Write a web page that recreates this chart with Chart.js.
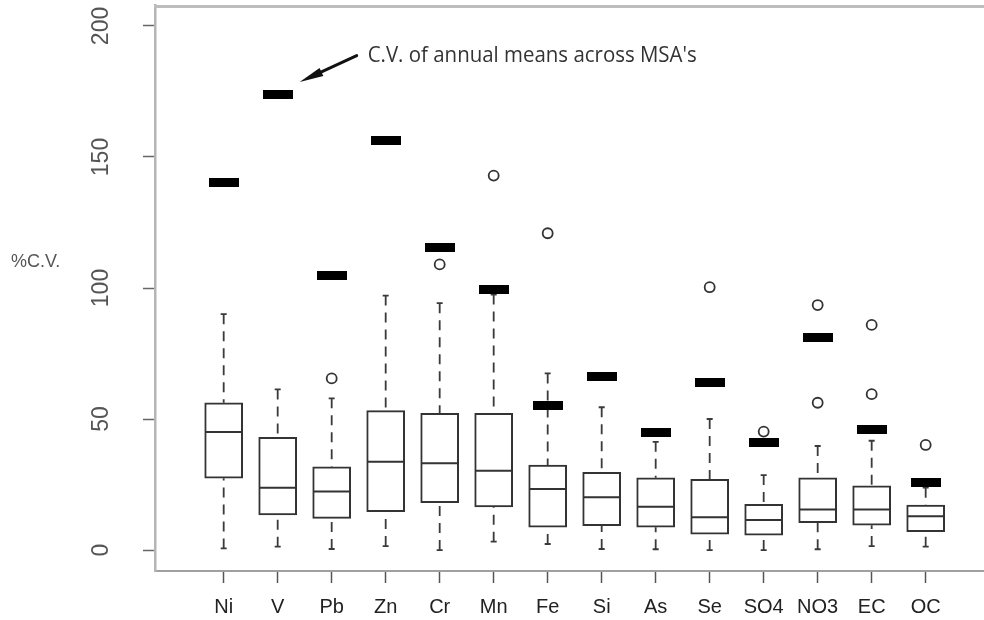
<!DOCTYPE html>
<html>
<head>
<meta charset="utf-8">
<script src="https://cdn.jsdelivr.net/npm/chart.js@4.4.1/dist/chart.umd.min.js"></script>
<style>
  html, body { margin: 0; padding: 0; background: #fff; }
  canvas { display: block; }
</style>
</head>
<body>
<canvas id="cv" width="984" height="620"></canvas>
<script>
// Species measured at the monitoring sites
const species = ['Ni', 'V', 'Pb', 'Zn', 'Cr', 'Mn', 'Fe', 'Si', 'As', 'Se', 'SO4', 'NO3', 'EC', 'OC'];

// Box-plot statistics of the within-MSA %C.V.
const whiskerLow  = [0.6, 1.3, 0.4, 1.5, 0.0, 3.2, 2.3, 0.4, 0.3, 0.0, 0.0, 0.3, 1.5, 1.3];
const lowerQuart  = [27.4, 13.4, 12.1, 14.6, 18.1, 16.5, 8.7, 9.3, 8.7, 6.1, 5.7, 10.4, 9.5, 7.0];
const medians     = [45.0, 23.8, 22.3, 33.7, 33.1, 30.3, 23.3, 20.1, 16.5, 12.5, 11.5, 15.5, 15.5, 12.9];
const upperQuart  = [56.2, 43.0, 31.8, 53.2, 52.2, 52.2, 32.4, 29.7, 27.6, 27.0, 17.4, 27.6, 24.5, 17.2];
const whiskerHigh = [90.0, 61.3, 57.9, 97.1, 94.2, 97.5, 67.4, 54.5, 41.3, 50.0, 28.6, 39.7, 41.7, 23.8];

// Outlying sites: [species index, %C.V.]
const outlierSpecies = [2, 4, 5, 6, 9, 10, 11, 11, 12, 12, 13];
const outlierValues  = [65.5, 109.0, 142.9, 120.9, 100.3, 45.2, 93.5, 56.2, 85.9, 59.5, 40.1];

// C.V. of annual means across MSA's
const msaCV = [140.3, 174.0, 104.7, 156.1, 115.5, 99.5, 55.1, 66.4, 44.8, 63.9, 41.0, 81.2, 46.1, 25.8];

const yTicks = [0, 50, 100, 150, 200];

const INK = '#333333';

// Solid black bar used as the marker for the across-MSA C.V.
const barMarker = document.createElement('canvas');
barMarker.width = 30;
barMarker.height = 9;
(function () {
  const c = barMarker.getContext('2d');
  c.fillStyle = '#000';
  c.fillRect(0, 0, 30, 9);
})();

const boxData = species.map((s, i) => ({ x: i + 1, y: [lowerQuart[i], upperQuart[i]] }));
const outlierData = outlierSpecies.map((k, j) => ({ x: k + 1, y: outlierValues[j] }));
const msaData = species.map((s, i) => ({ x: i + 1, y: msaCV[i] }));

const boxParts = {
  id: 'boxParts',
  beforeDatasetsDraw(chart) {
    const { ctx, scales: { x, y } } = chart;
    ctx.save();
    ctx.strokeStyle = '#3a3a3a';
    ctx.lineWidth = 1.8;
    species.forEach((s, i) => {
      const px = x.getPixelForValue(i + 1);
      // dashed whiskers, drawn from the whisker end toward the box
      ctx.setLineDash([10, 7]);
      ctx.beginPath();
      ctx.moveTo(px, y.getPixelForValue(whiskerHigh[i]));
      ctx.lineTo(px, y.getPixelForValue(upperQuart[i]));
      ctx.moveTo(px, y.getPixelForValue(whiskerLow[i]));
      ctx.lineTo(px, y.getPixelForValue(lowerQuart[i]));
      ctx.stroke();
      // staples
      ctx.setLineDash([]);
      ctx.beginPath();
      [whiskerHigh[i], whiskerLow[i]].forEach(v => {
        const py = y.getPixelForValue(v);
        ctx.moveTo(px - 3, py);
        ctx.lineTo(px + 3, py);
      });
      ctx.stroke();
    });
    ctx.restore();
  },
  afterDatasetDraw(chart, args) {
    if (args.meta.type !== 'bar') return;
    const { ctx, scales: { x, y } } = chart;
    ctx.save();
    ctx.strokeStyle = INK;
    ctx.lineWidth = 2;
    ctx.beginPath();
    species.forEach((s, i) => {
      const px = x.getPixelForValue(i + 1);
      const py = y.getPixelForValue(medians[i]);
      ctx.moveTo(px - 18.5, py);
      ctx.lineTo(px + 18.5, py);
    });
    ctx.stroke();
    ctx.restore();
  },
  afterDraw(chart) {
    const { ctx, chartArea, scales: { x, y } } = chart;
    ctx.save();
    // top frame line
    ctx.strokeStyle = '#bdbdbd';
    ctx.lineWidth = 3;
    ctx.beginPath();
    ctx.moveTo(chartArea.left - 1, chartArea.top + 1.5);
    ctx.lineTo(chartArea.right, chartArea.top + 1.5);
    ctx.stroke();

    // vertical tick labels on the value axis
    ctx.fillStyle = '#555';
    ctx.font = '23px "Liberation Sans", Arial, sans-serif';
    ctx.textAlign = 'center';
    ctx.textBaseline = 'middle';
    y.ticks.forEach(t => {
      ctx.save();
      ctx.translate(chartArea.left - 53, y.getPixelForValue(t.value));
      ctx.rotate(-Math.PI / 2);
      ctx.fillText(String(t.value), 0, 0);
      ctx.restore();
    });

    // axis title
    ctx.fillStyle = '#555';
    ctx.font = '18px "Liberation Sans", Arial, sans-serif';
    ctx.textAlign = 'left';
    ctx.textBaseline = 'alphabetic';
    ctx.fillText('%C.V.', 11, 267);

    // annotation pointing at the V marker
    const vx = x.getPixelForValue(2);
    const vy = y.getPixelForValue(msaCV[1]);
    const tip = { x: vx + 22, y: vy - 12 };
    const tail = { x: tip.x + 57, y: tip.y - 26.5 };
    const dx = tip.x - tail.x, dy = tip.y - tail.y;
    const len = Math.hypot(dx, dy);
    const ux = dx / len, uy = dy / len;
    const headLen = 24, headHalf = 4.5;
    const base = { x: tip.x - ux * headLen, y: tip.y - uy * headLen };
    ctx.strokeStyle = '#111';
    ctx.lineWidth = 3;
    ctx.lineCap = 'round';
    ctx.beginPath();
    ctx.moveTo(tail.x, tail.y);
    ctx.lineTo(base.x, base.y);
    ctx.stroke();
    ctx.fillStyle = '#111';
    ctx.beginPath();
    ctx.moveTo(tip.x, tip.y);
    ctx.lineTo(base.x - uy * headHalf, base.y + ux * headHalf);
    ctx.lineTo(base.x + uy * headHalf, base.y - ux * headHalf);
    ctx.closePath();
    ctx.fill();

    const note = "C.V. of annual means across MSA's";
    ctx.font = '21px "Open Sans", "Liberation Sans", sans-serif';
    ctx.fillStyle = '#333';
    const w = ctx.measureText(note).width;
    const targetW = 329;
    ctx.save();
    ctx.translate(tail.x + 11, tail.y + 6.5);
    ctx.scale(targetW / w, 1);
    ctx.fillText(note, 0, 0);
    ctx.restore();

    ctx.restore();
  }
};

new Chart(document.getElementById('cv'), {
  type: 'bar',
  data: {
    datasets: [
      {
        type: 'scatter',
        label: 'C.V. of annual means across MSA\'s',
        data: msaData,
        pointStyle: barMarker,
        pointRadius: 5,
        order: 0
      },
      {
        type: 'scatter',
        label: 'outliers',
        data: outlierData,
        pointStyle: 'circle',
        pointRadius: 5,
        borderWidth: 1.8,
        borderColor: INK,
        backgroundColor: 'rgba(255,255,255,0)',
        order: 1
      },
      {
        type: 'bar',
        label: 'interquartile range',
        data: boxData,
        backgroundColor: '#fff',
        borderColor: INK,
        borderWidth: 2,
        borderSkipped: false,
        barThickness: 38,
        order: 2
      }
    ]
  },
  options: {
    responsive: false,
    devicePixelRatio: 1,
    animation: false,
    events: [],
    layout: { autoPadding: false, padding: { top: 5, left: 0, right: 0, bottom: 0 } },
    plugins: {
      legend: { display: false },
      tooltip: { enabled: false },
      title: { display: false }
    },
    scales: {
      x: {
        type: 'linear',
        offset: false,
        min: -0.272,
        max: 15.08,
        afterBuildTicks: scale => { scale.ticks = species.map((s, i) => ({ value: i + 1 })); },
        afterFit: scale => {
          scale.height = 49;
          scale.paddingLeft = 0;
          scale.paddingRight = 0;
        },
        border: { display: true, color: '#a0a0a0', width: 2 },
        grid: { offset: false, drawOnChartArea: false, drawTicks: true, tickLength: 12, tickColor: '#555', tickWidth: 1.5 },
        ticks: {
          autoSkip: false,
          maxRotation: 0,
          minRotation: 0,
          padding: 12,
          color: '#222',
          font: { family: '"Liberation Sans", Arial, sans-serif', size: 20 },
          callback: v => species[v - 1]
        }
      },
      y: {
        type: 'linear',
        min: -8,
        max: 208,
        afterBuildTicks: scale => { scale.ticks = yTicks.map(v => ({ value: v })); },
        afterFit: scale => {
          scale.width = 155;
          scale.paddingTop = 0;
          scale.paddingBottom = 0;
        },
        border: { display: true, color: '#b5b5b5', width: 2.5 },
        grid: { drawOnChartArea: false, drawTicks: true, tickLength: 12, tickColor: '#666', tickWidth: 1.5 },
        ticks: { display: false }
      }
    }
  },
  plugins: [boxParts]
});
</script>
</body>
</html>
